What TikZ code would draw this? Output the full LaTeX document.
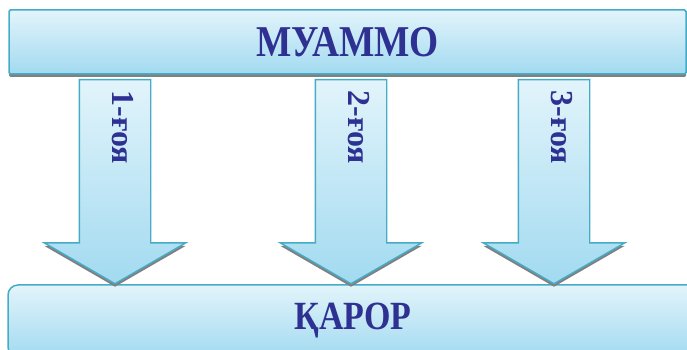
\documentclass[tikz,border=0pt]{standalone}
\usepackage{fontspec}
\setmainfont{Liberation Serif}
\definecolor{ideanavy}{RGB}{46, 49, 146}
\definecolor{ideateal}{RGB}{70, 172, 198}
\definecolor{ideatop}{RGB}{226, 244, 251}
\definecolor{ideabottom}{RGB}{162, 218, 240}
\usepackage{tikz}
\usetikzlibrary{shapes.arrows, shadows, calc}

\begin{document}
\begin{tikzpicture}[x=1pt, y=1pt,
  bar/.style={draw=ideateal, line width=1.5pt, top color=ideatop, bottom color=ideabottom,
    inner sep=0pt, text=ideanavy, font=\bfseries},
  idea/.style={single arrow, shape border rotate=270, draw=ideateal, line width=1.4pt,
    top color=ideatop, bottom color=ideabottom, inner sep=35pt,
    minimum height=204pt, minimum width=0pt,
    single arrow head extend=35pt, single arrow tip angle=120,
    drop shadow={shadow xshift=0pt, shadow yshift=-3pt, fill=black!50, opacity=1}},
  idealabel/.style={rotate=-90, text=ideanavy, inner sep=0pt,
    font=\fontsize{32}{32}\selectfont\bfseries}]
  \useasboundingbox (0,0) rectangle (687,350);

  % problem and decision
  \node[bar, rounded corners=1.5pt, minimum width=677pt, minimum height=64pt,
        drop shadow={shadow xshift=0pt, shadow yshift=-3pt, fill=black!50, opacity=1}]
    (problem) at (347.5,308) {\fontsize{44}{44}\selectfont\scalebox{0.85}[1]{МУАММО}};
  \node[bar, rounded corners=10pt, minimum width=690pt, minimum height=72pt]
    (decision) at (353,29) {\raisebox{4pt}{\fontsize{40}{40}\selectfont\scalebox{0.85}[1]{ҚАРОР}}};

  % ideas
  \foreach \x/\name/\num in {115/a1/1, 351/a2/2, 554/a3/3} {
    \node[idea, anchor=tail] (\name) at (\x,271) {};
    \node[idealabel] (\name-text) at ($(\name.tail)!0.235!(\name.tip)+(8,0)$) {\num-ғоя};
  }
\end{tikzpicture}
\end{document}
